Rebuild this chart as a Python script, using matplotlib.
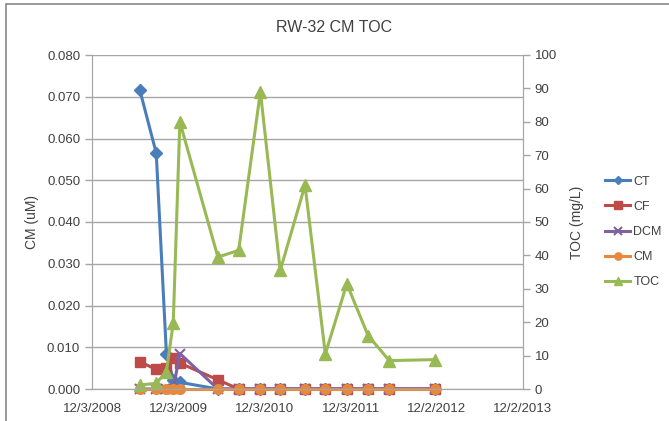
import matplotlib.pyplot as plt
import matplotlib.dates as mdates
import numpy as np
from datetime import date
from matplotlib.patches import Rectangle

plt.rcParams['font.family'] = ['Liberation Sans', 'DejaVu Sans']

dates = [date(2009, 6, 24), date(2009, 9, 1), date(2009, 10, 14), date(2009, 11, 12),
         date(2009, 12, 10), date(2010, 5, 20), date(2010, 8, 16), date(2010, 11, 16),
         date(2011, 2, 8), date(2011, 5, 24), date(2011, 8, 18), date(2011, 11, 17),
         date(2012, 2, 15), date(2012, 5, 15), date(2012, 11, 26)]
ct = [0.0715, 0.0565, 0.0085, 0.0022, 0.0016, 0, 0, 0, 0, 0, 0, 0, 0, 0, 0]
cf = [0.0065, 0.0047, 0.0050, 0.0075, 0.0062, 0.0022, 0, 0, 0, 0, 0, 0, 0, 0, 0]
dcm = [0, 0, 0, 0, 0.0085, 0, 0, 0, 0, 0, 0, 0, 0, 0, 0]
cm = [0, 0, 0, 0, 0, 0, 0, 0, 0, 0, 0, 0, 0, 0, 0]
toc = [1.2, 1.7, 5.2, 19.8, 80, 39.5, 41.5, 89, 35.5, 61, 10.5, 31.5, 16, 8.5, 8.8]
x_labels = ['12/3/2008', '12/3/2009', '12/3/2010', '12/3/2011', '12/2/2012', '12/2/2013']

W, H = 669, 421
fig = plt.figure(figsize=(W / 100, H / 100), dpi=100)
ax = fig.add_axes([92 / W, 1 - 389 / H, (523 - 92) / W, (389 - 55) / H])
ax2 = ax.twinx()

# outer chart frame (left and top edges visible in the reference)
fig.patches.append(Rectangle((6.5 / W, -0.05), (W + 20) / W, 1.05 - 4.5 / H,
                             transform=fig.transFigure, fill=False,
                             edgecolor='#888888', linewidth=1.2))

start = date(2008, 12, 3)
x0 = mdates.date2num(start)
ticks = [x0 + 365 * k for k in range(len(x_labels))]

grid_c = '#a6a6a6'
ax.set_ylim(0, 0.08)
ax.set_yticks(np.arange(0, 0.0801, 0.01))
ax.set_yticklabels(['%.3f' % v for v in np.arange(0, 0.0801, 0.01)])
ax.grid(axis='y', color=grid_c, linewidth=1.0)
ax.set_axisbelow(True)
ax.set_xlim(ticks[0], ticks[-1])
ax.set_xticks(ticks)
ax.set_xticklabels(x_labels)

ax2.set_ylim(0, 100)
ax2.set_yticks(np.arange(0, 101, 10))

for a in (ax, ax2):
    a.spines['top'].set_visible(False)
    for s in ('left', 'right', 'bottom'):
        a.spines[s].set_color(grid_c)
    a.tick_params(colors=grid_c, labelcolor='#404040', labelsize=9.5, length=5, width=1)
ax.tick_params(axis='x', length=0, pad=10)

xd = mdates.date2num(dates)
lines = []
lines += ax.plot(xd, ct, color='#4A7EBB', lw=2.2, marker='D', ms=6, label='CT')
lines += ax.plot(xd, cf, color='#BE4B48', lw=2.2, marker='s', ms=7, label='CF')
lines += ax.plot(xd, dcm, color='#7E62A1', lw=2.2, marker='x', ms=7, mew=1.5, label='DCM')
lines += ax.plot(xd, cm, color='#E8883A', lw=2.2, marker='o', ms=7, label='CM')
lines += ax2.plot(xd, toc, color='#98B954', lw=2.2, marker='^', ms=8, label='TOC')

for ln in lines:
    ln.set_clip_on(False)

ax.set_ylabel('CM (uM)', fontsize=10, color='#404040', labelpad=6)
ax2.set_ylabel('TOC (mg/L)', fontsize=10, color='#404040', labelpad=9)
fig.text(334 / W, 1 - 28 / H, 'RW-32 CM TOC', ha='center', va='center',
         fontsize=11.5, color='#404040')

fig.legend(handles=lines, loc='center left', bbox_to_anchor=(594 / W, 1 - 232 / H),
           frameon=False, fontsize=9, handlelength=2.0, labelspacing=1.05,
           handletextpad=0.25, markerscale=0.75, labelcolor='#404040')

fig.savefig('out.png', dpi=100)
